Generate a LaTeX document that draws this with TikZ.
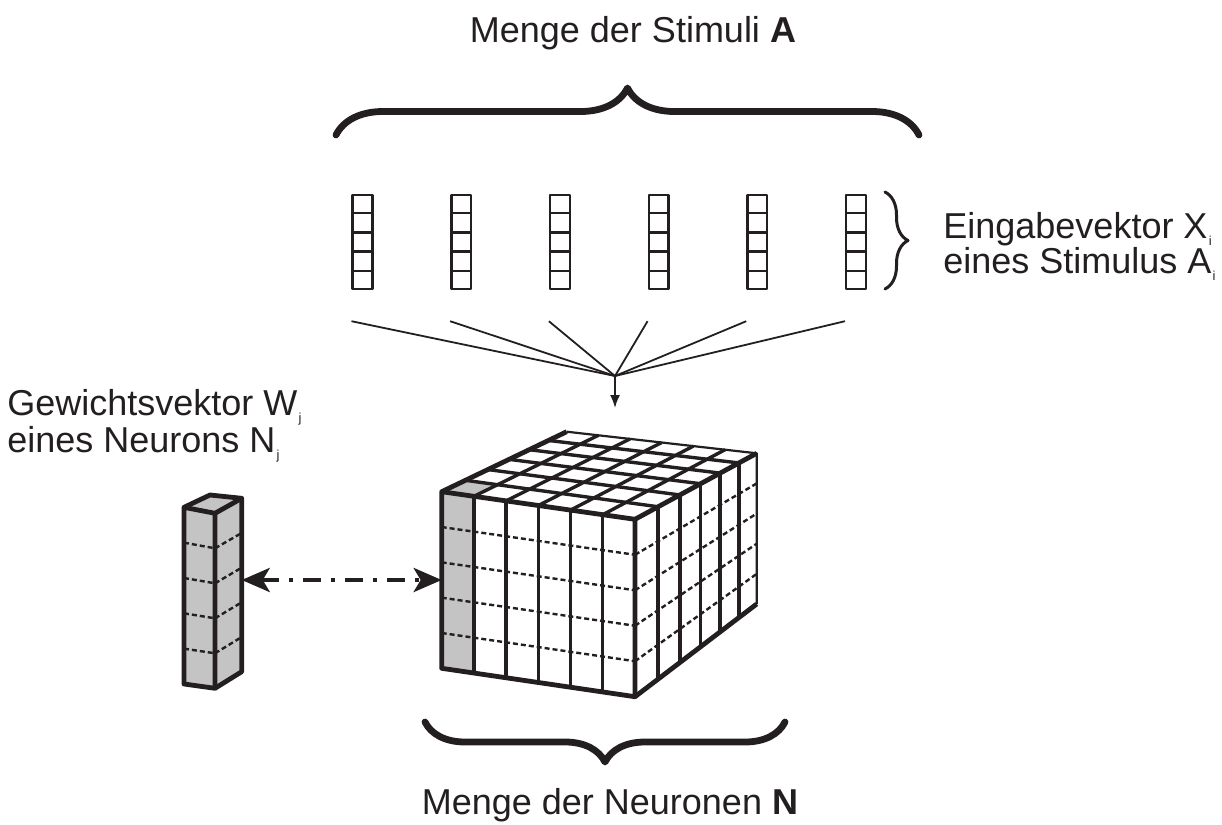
\documentclass[tikz,border=0pt]{standalone}
\usepackage{fontspec}
\setmainfont{Liberation Sans}
\usetikzlibrary{calc,arrows.meta,decorations.pathreplacing}
\definecolor{ink}{RGB}{35,31,32}
\definecolor{cellgrey}{RGB}{196,196,196}
\newcommand{\lowidx}[1]{\hspace{0.6pt}\raisebox{-3.5pt}{\fontsize{6.5}{6.5}\selectfont #1}}

\begin{document}
\begin{tikzpicture}[x=0.5pt, y=-0.5pt, line join=round,
  lbl/.style={font=\fontsize{18}{18}\selectfont, text=ink, inner sep=0pt},
  vec/.style={draw=ink, line width=1.2pt, minimum width=9.85pt, minimum height=47pt, inner sep=0pt},
  edge/.style={draw=ink, line width=2.4pt},
  backedge/.style={draw=ink, line width=1.1pt},
  gridline/.style={draw=ink, line width=1.7pt},
  dashline/.style={draw=ink, line width=1.2pt, dash pattern=on 2.5pt off 1.5pt},
  fan/.style={draw=ink, line width=0.9pt},
  brc/.style={draw=ink, line cap=round, decorate, decoration={brace, amplitude=#1}}]
  \useasboundingbox (0,0) rectangle (1222,825);

  % labels
  \node[lbl, anchor=base] (titleA) at (633,42) {Menge der Stimuli \textbf{A}};
  \node[lbl, anchor=base] (titleN) at (610,814) {Menge der Neuronen \textbf{N}};
  \node[lbl, anchor=base west] (inA) at (943,238) {Eingabevektor X\lowidx{i}};
  \node[lbl, anchor=base west] (inB) at (943,273) {eines Stimulus A\lowidx{i}};
  \node[lbl, anchor=base west] (wA) at (7,415) {Gewichtsvektor W\lowidx{j}};
  \node[lbl, anchor=base west] (wB) at (7,452) {eines Neurons N\lowidx{j}};

  % braces
  \draw[brc=23.5pt, line width=3.4pt] (336,135) -- (919,135);
  \draw[brc=20pt, line width=3.4pt] (785,722) -- (425,722);
  \draw[brc=11.5pt, line width=1.5pt] (885,192) -- (885,289);

  % input vectors and fan
  \coordinate (hub) at (615,376);
  \coordinate (hubend) at (615,408);
  \foreach \k in {1,...,6} {
    \node[vec] (v\k) at ({362.5+98.7*(\k-1)},242) {};
    \foreach \j in {1,...,4}
      \draw[ink, line width=1.2pt] ($(v\k.north west)!\j/5!(v\k.south west)$) -- ($(v\k.north east)!\j/5!(v\k.south east)$);
    \coordinate (f\k) at ($(v\k.south west)+(0,31)$);
    \draw[fan] (f\k) -- (hub);
  }
  \draw[fan, -{Latex[length=6.5pt,width=5pt]}] (hub) -- (hubend);

  % neuron cube
  \coordinate (ftl) at (441.7,491.7);
  \coordinate (ftr) at (635,519.3);
  \coordinate (fbl) at (441.7,668.3);
  \coordinate (fbr) at (635,696.7);
  \coordinate (btl) at (566.7,431.7);
  \coordinate (btr) at (756.7,453.3);
  \coordinate (bbr) at (756.7,604);
  \fill[cellgrey] (ftl) -- ($(ftl)!1/6!(ftr)$) -- ($(fbl)!1/6!(fbr)$) -- (fbl) -- cycle;
  \fill[cellgrey] (ftl) -- ($(ftl)!1/6!(ftr)$)
    -- ($($(ftl)!0.19!(btl)$)!1/6!($(ftr)!0.19!(btr)$)$) -- ($(ftl)!0.19!(btl)$) -- cycle;
  \foreach \j in {1,...,4} {
    \draw[dashline] ($(ftl)!\j/5!(fbl)$) -- ($(ftr)!\j/5!(fbr)$);
    \draw[dashline] ($(ftr)!\j/5!(fbr)$) -- ($(btr)!\j/5!(bbr)$);
  }
  \foreach \i in {1,...,5} {
    \draw[gridline] ($(ftl)!\i/6!(ftr)$) -- ($(fbl)!\i/6!(fbr)$);
    \draw[gridline] ($(ftl)!\i/6!(ftr)$) -- ($(btl)!\i/6!(btr)$);
  }
  \foreach \s in {0.19,0.369,0.539,0.70,0.854} {
    \draw[gridline] ($(ftl)!\s!(btl)$) -- ($(ftr)!\s!(btr)$);
    \draw[gridline] ($(ftr)!\s!(btr)$) -- ($(fbr)!\s!(bbr)$);
  }
  \draw[backedge] (btl) -- (btr) -- (bbr);
  \draw[edge] (fbl) -- (ftl) -- (ftr) -- (fbr) -- cycle;
  \draw[edge] (ftl) -- (btl);
  \draw[edge] (ftr) -- (btr);
  \draw[edge] (fbr) -- (bbr);

  % weight vector column
  \coordinate (wtl) at (184,507.3);
  \coordinate (wtr) at (215,513.3);
  \coordinate (wbl) at (184,684);
  \coordinate (wbr) at (215,688.3);
  \coordinate (wbtl) at (210,495);
  \coordinate (wbtr) at (241.7,498.3);
  \coordinate (wbbr) at (241.7,671.7);
  \fill[cellgrey] (wbl) -- (wtl) -- (wbtl) -- (wbtr) -- (wbbr) -- (wbr) -- cycle;
  \foreach \j in {1,...,4} {
    \draw[dashline] ($(wtl)!\j/5!(wbl)$) -- ($(wtr)!\j/5!(wbr)$);
    \draw[dashline] ($(wtr)!\j/5!(wbr)$) -- ($(wbtr)!\j/5!(wbbr)$);
  }
  \draw[edge] (wbl) -- (wtl) -- (wtr) -- (wbr) -- cycle;
  \draw[edge] (wtl) -- (wbtl) -- (wbtr) -- (wbbr) -- (wbr);
  \draw[edge] (wtr) -- (wbtr);

  % link between weight vector and neuron
  \coordinate (wmid) at (241.7,580);
  \coordinate (cmid) at (441.7,580);
  \draw[ink, line width=2.2pt, dash pattern=on 9pt off 5pt on 2pt off 5pt,
    {Stealth[length=14pt,width=12pt,inset=3.5pt]}-{Stealth[length=14pt,width=12pt,inset=3.5pt]}] (wmid) -- (cmid);
\end{tikzpicture}
\end{document}
